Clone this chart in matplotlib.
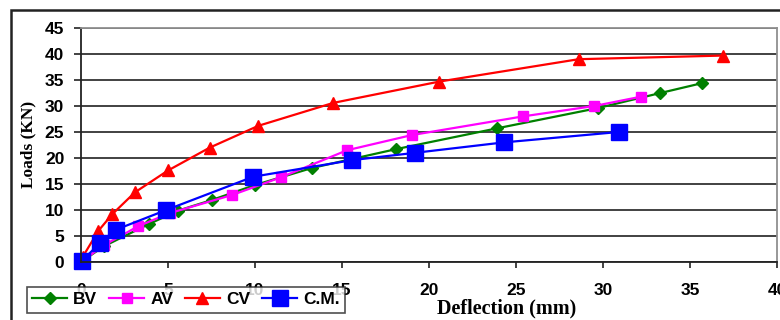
import matplotlib.pyplot as plt
from matplotlib.patches import Rectangle

# values
bv_x = [0, 1.3, 3.9, 5.6, 7.5, 10.0, 13.3, 18.1, 23.9, 29.7, 33.3, 35.7]
bv_y = [0, 3.0, 7.3, 9.9, 11.9, 14.8, 18.1, 21.7, 25.7, 29.6, 32.5, 34.4]

av_x = [0, 1.3, 3.3, 5.1, 8.7, 11.5, 15.3, 19.0, 25.4, 29.5, 32.2]
av_y = [0, 3.2, 6.9, 9.4, 12.9, 16.3, 21.5, 24.4, 28.0, 30.0, 31.8]

cv_x = [0.1, 1.0, 1.8, 3.1, 5.0, 7.4, 10.2, 14.5, 20.6, 28.6, 36.9]
cv_y = [1.0, 6.0, 9.2, 13.4, 17.6, 22.0, 26.2, 30.6, 34.7, 39.0, 39.7]

cm_x = [0.05, 1.1, 2.0, 4.9, 9.9, 15.6, 19.2, 24.3, 30.9]
cm_y = [0.2, 3.7, 6.2, 10.0, 16.4, 19.6, 21.0, 23.0, 25.0]

x_ticks = [0, 5, 10, 15, 20, 25, 30, 35, 40]
y_ticks = [0, 5, 10, 15, 20, 25, 30, 35, 40, 45]

tick_font = {'family': 'Liberation Sans', 'weight': 'bold', 'size': 12.5}

fig = plt.figure(figsize=(7.8, 3.2), dpi=100)
ax = fig.add_axes([81/780, 1 - 262/320, 696/780, 234/320])

# outer frame of the chart object
fig.patches.append(Rectangle((11/780, -0.1), 1.2, 1.1 - 10/320, transform=fig.transFigure,
                             fill=False, edgecolor='#222222', linewidth=1.8))

ax.plot(bv_x, bv_y, color='#008000', lw=1.6, marker='D', ms=6.5, clip_on=False, label='BV')
ax.plot(av_x, av_y, color='#FF00FF', lw=1.6, marker='s', ms=7.5, clip_on=False, label='AV')
ax.plot(cv_x, cv_y, color='#FF0000', lw=1.6, marker='^', ms=9, clip_on=False, label='CV')
ax.plot(cm_x, cm_y, color='#0000FF', lw=1.6, marker='s', ms=11, clip_on=False, label='C.M.')

ax.set_xlim(0, 40)
ax.set_ylim(0, 45)
ax.set_xticks(x_ticks)
ax.set_yticks(y_ticks)
ax.set_xticklabels([str(v) for v in x_ticks], fontdict=tick_font)
ax.set_yticklabels([str(v) for v in y_ticks], fontdict=tick_font)
ax.tick_params(axis='x', direction='out', length=4, width=1.2, pad=11, color='#222222')
ax.tick_params(axis='y', direction='out', length=5, width=1.2, pad=7, color='#222222')

ax.yaxis.grid(True, color='#333333', lw=1.3)
ax.set_axisbelow(True)
for side in ['top', 'right']:
    ax.spines[side].set_color('#909090')
    ax.spines[side].set_linewidth(1.3)
for side in ['left', 'bottom']:
    ax.spines[side].set_color('#222222')
    ax.spines[side].set_linewidth(1.3)

ax.set_xlabel('Deflection (mm)', family='Liberation Serif', weight='bold', size=14.5)
ax.xaxis.set_label_coords(0.612, -0.155)
ax.xaxis.label.set_va('top')
ax.set_ylabel('Loads (KN)', family='Liberation Serif', weight='bold', size=12.5)
ax.yaxis.set_label_coords(-0.076, 0.504)
ax.yaxis.label.set_va('center')

leg = ax.legend(loc='upper left', bbox_to_anchor=(27/780, 1 - 287/320),
                bbox_transform=fig.transFigure, ncol=4, frameon=True, fancybox=False,
                edgecolor='#222222', handlelength=2.0, columnspacing=0.7,
                handletextpad=0.35, borderpad=0.3, borderaxespad=0,
                prop={'family': 'Liberation Sans', 'weight': 'bold', 'size': 12.5})
leg.get_frame().set_linewidth(1.2)

fig.savefig('out.png', dpi=100)
